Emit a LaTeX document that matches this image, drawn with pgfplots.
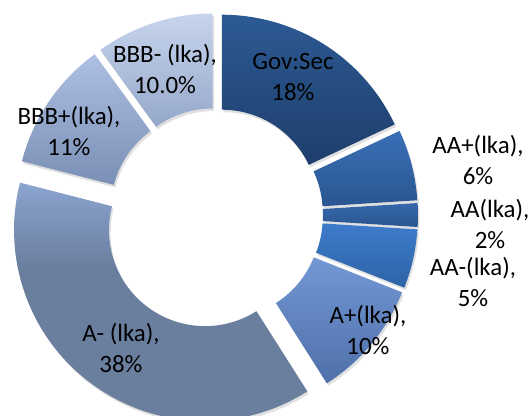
\documentclass[border=0pt]{standalone}
\usepackage{pgfplots}
\pgfplotsset{compat=1.18}
\usepackage{fontspec}
\setmainfont{Carlito}
\definecolor{govT}{HTML}{2C5A93}\definecolor{govB}{HTML}{1E3E6C}
\definecolor{aapT}{HTML}{3A6FB6}\definecolor{aapB}{HTML}{2A5692}
\definecolor{aaT}{HTML}{3568AA}\definecolor{aaB}{HTML}{2B5690}
\definecolor{aamT}{HTML}{3D7BCB}\definecolor{aamB}{HTML}{2E63A6}
\definecolor{apT}{HTML}{7398D4}\definecolor{apB}{HTML}{4E6FAA}
\definecolor{amT}{HTML}{8BA4CF}\definecolor{amB}{HTML}{6A7E9E}
\definecolor{bbpT}{HTML}{ADC0E3}\definecolor{bbpB}{HTML}{7A8FB5}
\definecolor{bbmT}{HTML}{C7D4EC}\definecolor{bbmB}{HTML}{95A8CA}
\pgfdeclareverticalshading{amshade}{100bp}{color(0bp)=(amB); color(57bp)=(amB); color(75bp)=(amT); color(100bp)=(amT)}
% #1 start share, #2 end share (percent, cumulative), #3 explosion (px), #4 style
\newcommand{\seg}[4]{%
\addplot[draw=none,#4,domain=0:120,samples=121,variable=\t]
 ({216 + #3*sin(1.8*(#1+#2)) + ((\t<60.5) ? 191 : 96)*sin(3.6*((\t<60.5) ? (#1+(#2-#1)*\t/60) : (#2-(#2-#1)*(\t-61)/59)))},
  {201 + #3*cos(1.8*(#1+#2)) + ((\t<60.5) ? 191 : 96)*cos(3.6*((\t<60.5) ? (#1+(#2-#1)*\t/60) : (#2-(#2-#1)*(\t-61)/59)))});
}
\newcommand{\shadowseg}[3]{%
\addplot[draw=none,fill=black,fill opacity=0.12,domain=0:120,samples=121,variable=\t]
 ({217.5 + #3*sin(1.8*(#1+#2)) + ((\t<60.5) ? 191 : 96)*sin(3.6*((\t<60.5) ? (#1+(#2-#1)*\t/60) : (#2-(#2-#1)*(\t-61)/59)))},
  {198.5 + #3*cos(1.8*(#1+#2)) + ((\t<60.5) ? 191 : 96)*cos(3.6*((\t<60.5) ? (#1+(#2-#1)*\t/60) : (#2-(#2-#1)*(\t-61)/59)))});
}
\begin{document}
\begin{tikzpicture}
\begin{axis}[width=532bp,height=416bp,scale only axis,
  xmin=0,xmax=532,ymin=0,ymax=416,hide axis,clip=true]
\path (axis cs:0,0) rectangle (axis cs:532,416);
% shares: Gov:Sec 18, AA+ 6, AA 2, AA- 5, A+ 10, A- 38, BBB+ 11, BBB- 10
\shadowseg{0}{18}{11}
\shadowseg{18}{24}{11}
\shadowseg{24}{26}{11}
\shadowseg{26}{31}{11}
\shadowseg{31}{41}{11}
\shadowseg{41}{79}{18.7}
\shadowseg{79}{90}{11}
\shadowseg{90}{100}{11}
\seg{0}{18}{11}{top color=govT,bottom color=govB}
\seg{18}{24}{11}{top color=aapT,bottom color=aapB}
\seg{24}{26}{11}{top color=aaT,bottom color=aaB}
\seg{26}{31}{11}{top color=aamT,bottom color=aamB}
\seg{31}{41}{11}{top color=apT,bottom color=apB}
\seg{41}{79}{18.7}{shade,shading=amshade}
\seg{79}{90}{11}{top color=bbpT,bottom color=bbpB}
\seg{90}{100}{11}{top color=bbmT,bottom color=bbmB}
\end{axis}
\begin{axis}[width=532bp,height=416bp,scale only axis,
  xmin=0,xmax=532,ymin=0,ymax=416,hide axis,clip=false]
\path (axis cs:0,0) rectangle (axis cs:532,416);
\tikzset{lab/.style={align=center,font=\fontsize{25}{31}\selectfont,text=black,inner sep=0pt}}
\node[lab] at (axis cs:293,339) {Gov:Sec\\18\%};
\node[lab] at (axis cs:478,256) {AA+(lka),\\6\%};
\node[lab] at (axis cs:490,192) {AA(lka),\\2\%};
\node[lab] at (axis cs:473,134) {AA-(lka),\\5\%};
\node[lab] at (axis cs:368,86) {A+(lka),\\10\%};
\node[lab] at (axis cs:121,68) {A- (lka),\\38\%};
\node[lab] at (axis cs:69,285) {BBB+(lka),\\11\%};
\node[lab] at (axis cs:165,347) {BBB- (lka),\\10.0\%};
\end{axis}
\end{tikzpicture}
\end{document}
